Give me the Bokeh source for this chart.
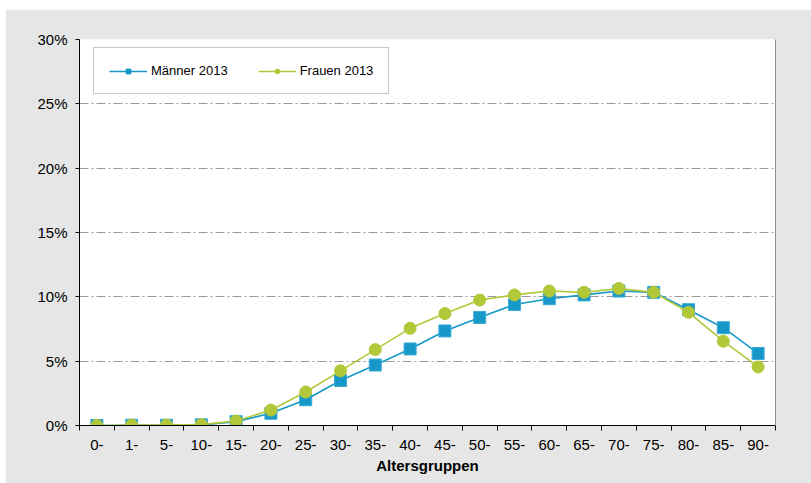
from bokeh.plotting import figure
from bokeh.models import (Range1d, FixedTicker, PrintfTickFormatter,
                          LinearAxis, Legend, LegendItem)
from bokeh.embed import file_html
from bokeh.resources import INLINE

# Age groups and population shares (percent) by sex, 2013
age_groups = ["0-", "1-", "5-", "10-", "15-", "20-", "25-", "30-", "35-", "40-",
              "45-", "50-", "55-", "60-", "65-", "70-", "75-", "80-", "85-", "90-"]
maenner_2013 = [0.0, 0.02, 0.02, 0.05, 0.3, 0.95, 2.0, 3.5, 4.7, 5.95,
                7.35, 8.4, 9.4, 9.85, 10.15, 10.45, 10.35, 9.0, 7.6, 5.6]
frauen_2013 = [0.0, 0.04, 0.04, 0.07, 0.35, 1.2, 2.6, 4.25, 5.9, 7.55,
               8.7, 9.75, 10.15, 10.45, 10.35, 10.65, 10.35, 8.8, 6.55, 4.55]
y_ticks = [0, 5, 10, 15, 20, 25, 30]

FONT = "Liberation Sans"
BLUE = "#1699c9"
BLUE_EDGE = "#3aaad6"
GREEN = "#b2c838"
GRID = "#9a9a9a"

x = list(range(len(age_groups)))

p = figure(width=806, height=474, output_backend="svg", toolbar_location=None,
           x_range=Range1d(-0.5, len(age_groups) - 0.5), y_range=Range1d(0, 30),
           min_border_left=74, min_border_right=36, min_border_top=30, min_border_bottom=58)
p.margin = (9, 0, 0, 5)
p.background_fill_color = "white"
p.border_fill_color = "#e6e6e6"
p.outline_line_color = None

# x axis: labels at group centres, tick marks between groups
xa = p.xaxis[0]
xa.ticker = FixedTicker(ticks=x, minor_ticks=[i - 0.5 for i in range(len(age_groups) + 1)])
xa.major_label_overrides = {i: lab for i, lab in enumerate(age_groups)}
xa.major_tick_out = 0
xa.major_tick_in = 0
xa.minor_tick_out = 5
xa.minor_tick_in = 0
xa.minor_tick_line_color = "black"
xa.axis_line_color = "black"
xa.major_label_text_font = FONT
xa.major_label_text_font_size = "15px"
xa.major_label_text_color = "black"
xa.major_label_standoff = 9
xa.axis_label = "Altersgruppen"
xa.axis_label_text_font = FONT
xa.axis_label_text_font_size = "15px"
xa.axis_label_text_font_style = "bold"
xa.axis_label_text_color = "black"
xa.axis_label_standoff = 4

ya = p.yaxis[0]
ya.ticker = FixedTicker(ticks=y_ticks)
ya.formatter = PrintfTickFormatter(format="%d%%")
ya.major_tick_out = 4
ya.major_tick_in = 0
ya.minor_tick_line_color = None
ya.axis_line_color = "black"
ya.major_tick_line_color = "black"
ya.major_label_text_font = FONT
ya.major_label_text_font_size = "15px"
ya.major_label_text_color = "black"
ya.major_label_standoff = 8

# plain grey frame edge on the right
ra = LinearAxis(ticker=FixedTicker(ticks=[]), axis_line_color="#8f8f8f",
                major_label_text_font_size="0px", major_tick_line_color=None,
                minor_tick_line_color=None)
p.add_layout(ra, "right")

p.xgrid.grid_line_color = None
p.ygrid.ticker = FixedTicker(ticks=y_ticks)
p.ygrid.grid_line_color = GRID
p.ygrid.grid_line_dash = "9 3 2 3"
p.ygrid.grid_line_width = 1

# small markers underneath the full-size ones; they serve as the legend keys
m_small = p.scatter(x, maenner_2013, marker="square", size=7, fill_color=BLUE, line_color=BLUE)
f_small = p.scatter(x, frauen_2013, marker="circle", size=7, fill_color=GREEN, line_color=GREEN)

# data series
m_line = p.line(x, maenner_2013, line_color=BLUE, line_width=1.6)
p.scatter(x, maenner_2013, marker="square", size=12, fill_color=BLUE, line_color=BLUE_EDGE)
f_line = p.line(x, frauen_2013, line_color=GREEN, line_width=1.6)
p.scatter(x, frauen_2013, marker="circle", size=12, fill_color=GREEN, line_color=GREEN)

legend = Legend(items=[LegendItem(label="Männer 2013", renderers=[m_line, m_small]),
                       LegendItem(label="Frauen 2013", renderers=[f_line, f_small])],
                location=(14, 331), orientation="horizontal",
                glyph_width=38, glyph_height=12, label_height=12,
                label_standoff=4, spacing=30, padding=15, margin=0,
                label_text_font=FONT, label_text_font_size="13px",
                label_text_color="black",
                border_line_color="#8f8f8f", border_line_width=1,
                background_fill_color="white", background_fill_alpha=1)
p.add_layout(legend, "center")

open("out.html", "w").write(file_html(p, INLINE))
